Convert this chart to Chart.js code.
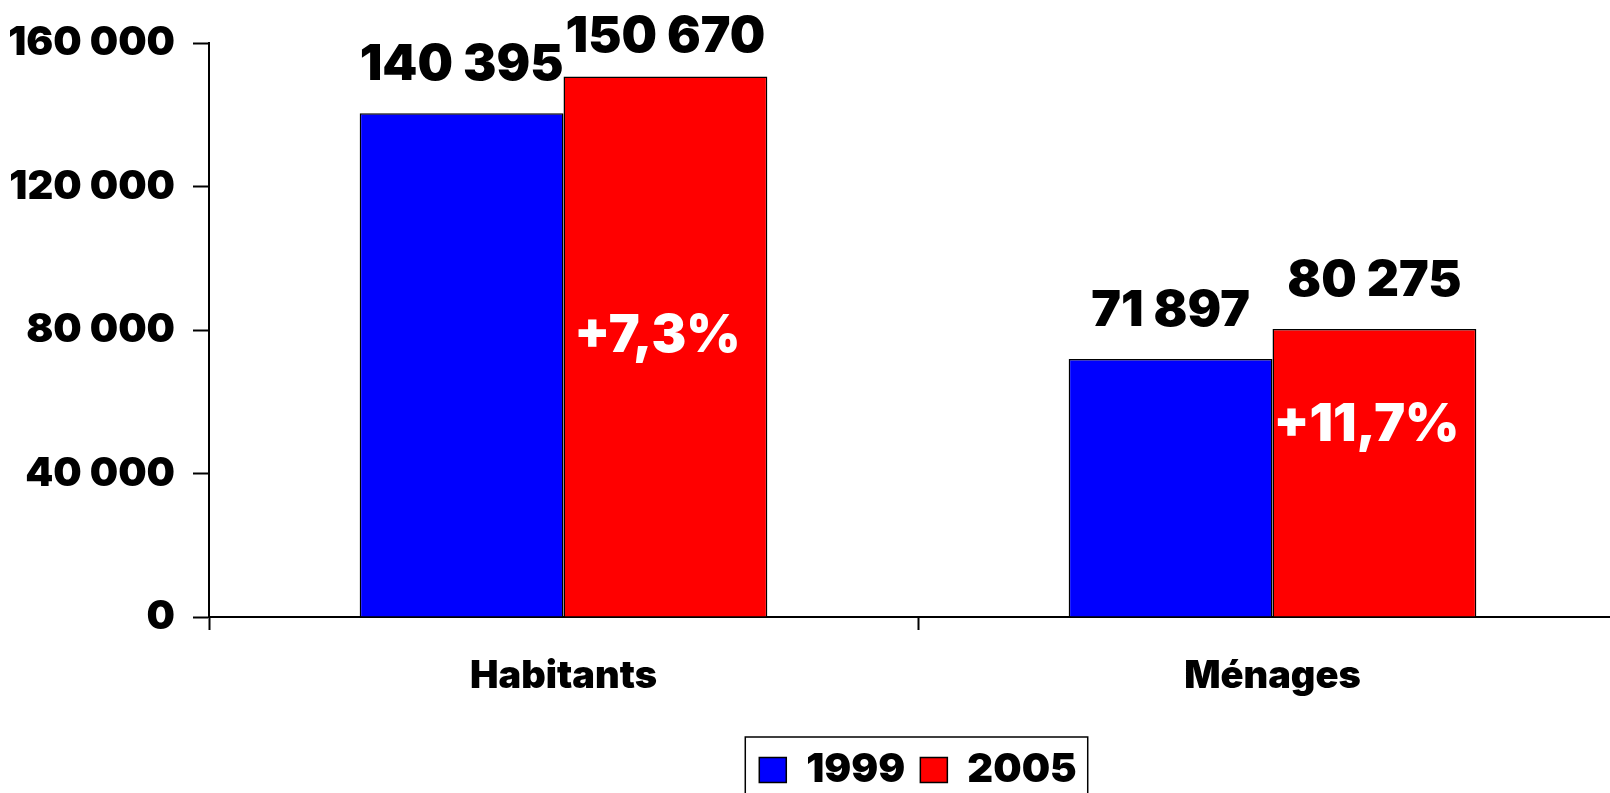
<!DOCTYPE html>
<html lang="fr">
<head>
<meta charset="utf-8">
<title>Habitants et ménages 1999 / 2005</title>
<script src="https://cdn.jsdelivr.net/npm/chart.js@4.4.1/dist/chart.umd.min.js"></script>
<style>
  html, body { margin: 0; padding: 0; background: #fff; overflow: hidden; }
  #wrap { width: 1640px; height: 810px; }
</style>
</head>
<body>
<div id="wrap"><canvas id="chart" width="1640" height="810"></canvas></div>
<script>
const categories = ['Habitants', 'Ménages'];
const years = ['1999', '2005'];
const values1999 = [140395, 71897];
const values2005 = [150670, 80275];
const yTicks = [0, 40000, 80000, 120000, 160000];

// where the growth label sits, as a share of the 2005 bar height
const growthLabelPos = [0.52, 0.667];

const FONT = 'Inter';

// 140395 -> "140 395"
function fmt(n) {
  return String(n).replace(/\B(?=(\d{3})+(?!\d))/g, ' ');
}

// change from a to b, e.g. "+7,3%"
function growth(a, b) {
  return '+' + ((b / a - 1) * 100).toFixed(1).replace('.', ',') + '%';
}

Chart.defaults.font.family = FONT;
Chart.defaults.font.weight = '900';
Chart.defaults.color = '#000';

// values above the bars, growth inside the 2005 bars
const valueLabels = {
  id: 'valueLabels',
  afterDatasetsDraw(chart) {
    const ctx = chart.ctx;
    ctx.save();
    ctx.font = '900 50px ' + FONT;
    ctx.fillStyle = '#000';
    ctx.textAlign = 'center';
    ctx.textBaseline = 'alphabetic';
    chart.data.datasets.forEach((ds, i) => {
      chart.getDatasetMeta(i).data.forEach((bar, j) => {
        // keep the label inside the top of the canvas
        const y = Math.max(bar.y - 33, 52);
        ctx.fillText(fmt(ds.data[j]), bar.x, y);
      });
    });

    const yScale = chart.scales.y;
    ctx.font = '900 52px ' + FONT;
    ctx.fillStyle = '#fff';
    ctx.textBaseline = 'middle';
    chart.getDatasetMeta(1).data.forEach((bar, j) => {
      const y = yScale.getPixelForValue(values2005[j] * growthLabelPos[j]);
      ctx.fillText(growth(values1999[j], values2005[j]), bar.x - 8, y);
    });
    ctx.restore();
  }
};

// frame around the legend
const legendFrame = {
  id: 'legendFrame',
  afterDraw(chart) {
    const lg = chart.legend;
    const boxes = lg.legendHitBoxes;
    if (!boxes || !boxes.length) return;
    const first = boxes[0];
    const last = boxes[boxes.length - 1];
    const ctx = chart.ctx;
    ctx.save();
    ctx.strokeStyle = '#000';
    ctx.lineWidth = 1.5;
    ctx.strokeRect(first.left - 14, lg.top + 2, last.left + last.width - first.left + 25, lg.height);
    ctx.restore();
  }
};

new Chart(document.getElementById('chart'), {
  type: 'bar',
  data: {
    labels: categories,
    datasets: [
      { label: years[0], data: values1999, backgroundColor: '#0000ff', borderColor: '#000', borderWidth: 1.5 },
      { label: years[1], data: values2005, backgroundColor: '#ff0000', borderColor: '#000', borderWidth: 1.5 }
    ]
  },
  options: {
    responsive: false,
    animation: false,
    devicePixelRatio: 1,
    layout: { padding: { top: 43, right: 13, bottom: 10, left: 0 } },
    datasets: {
      bar: { categoryPercentage: 0.575, barPercentage: 1 }
    },
    scales: {
      x: {
        grid: { offset: true, drawOnChartArea: false, tickLength: 13, tickColor: '#000', tickWidth: 2 },
        border: { color: '#000', width: 2 },
        ticks: { padding: 24, font: { size: 38 } },
        afterFit(scale) { scale.height = 118; }
      },
      y: {
        min: 0,
        max: 160000,
        afterBuildTicks(scale) { scale.ticks = yTicks.map(v => ({ value: v })); },
        grid: { drawOnChartArea: false, tickLength: 16, tickColor: '#000', tickWidth: 2 },
        border: { color: '#000', width: 2 },
        ticks: { padding: 18, font: { size: 40 }, callback: v => fmt(v) },
        afterFit(scale) { scale.width = 209; }
      }
    },
    plugins: {
      legend: {
        position: 'bottom',
        fullSize: false,
        labels: { boxWidth: 27, boxHeight: 25, padding: 15, font: { size: 40 }, color: '#000' }
      },
      tooltip: { enabled: false }
    }
  },
  plugins: [valueLabels, legendFrame]
});
</script>
</body>
</html>
